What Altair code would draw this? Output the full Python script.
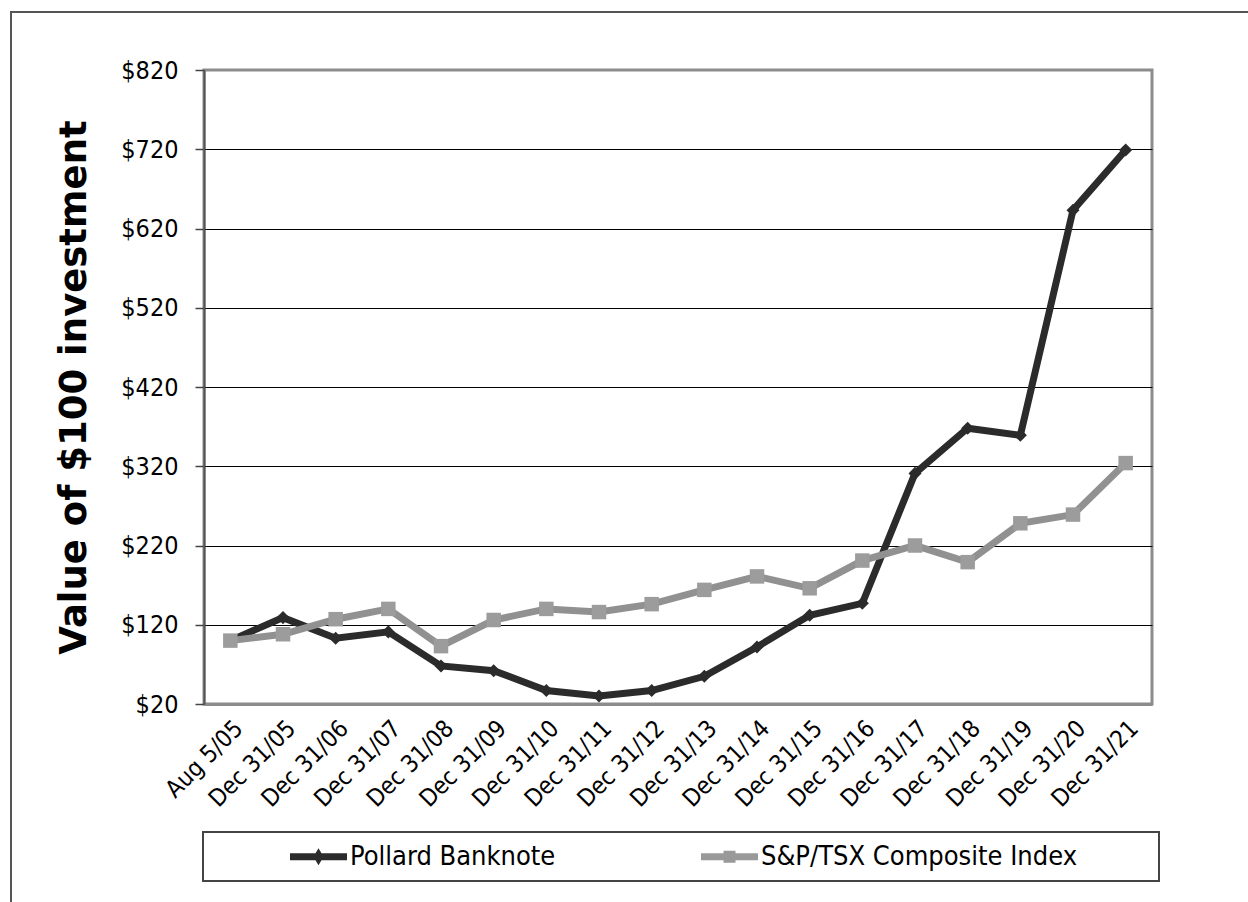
import altair as alt
import pandas as pd

dates = ["Aug 5/05", "Dec 31/05", "Dec 31/06", "Dec 31/07", "Dec 31/08", "Dec 31/09",
         "Dec 31/10", "Dec 31/11", "Dec 31/12", "Dec 31/13", "Dec 31/14", "Dec 31/15",
         "Dec 31/16", "Dec 31/17", "Dec 31/18", "Dec 31/19", "Dec 31/20", "Dec 31/21"]
pollard = [100, 129, 103, 111, 68, 62, 37, 30, 37, 55, 92, 132, 147, 311, 368, 359, 643, 719]
sptsx = [100, 108, 127, 140, 93, 126, 140, 136, 146, 164, 181, 166, 201, 220, 199, 248, 259, 324]
series_names = ["Pollard Banknote", "S&P/TSX Composite Index"]
series_colors = ["#2b2b2b", "#999999"]
y_ticks = [20, 120, 220, 320, 420, 520, 620, 720, 820]

rows = []
for d, p, s in zip(dates, pollard, sptsx):
    rows.append({"date": d, "series": series_names[0], "value": p})
    rows.append({"date": d, "series": series_names[1], "value": s})
df = pd.DataFrame(rows)

FONT = "DejaVu Sans Condensed, DejaVu Sans"
TFONT = "DejaVu Sans"

x_enc = alt.X("date:N", sort=dates, title=None,
              axis=alt.Axis(labelAngle=-45, labelFontSize=24, labelFont=FONT, labelColor="#000",
                            ticks=False, domainColor="#8c8c8c", domainWidth=3, labelPadding=12,
                            grid=False))
y_enc = alt.Y("value:Q", title="Value of $100 investment",
              scale=alt.Scale(domain=[20, 820], nice=False, zero=False),
              axis=alt.Axis(values=y_ticks, labelExpr="'$' + datum.value", labelFontSize=25,
                            labelFont=FONT, labelColor="#000", tickSize=9, tickColor="#444",
                            tickWidth=1.5, labelPadding=17, domainColor="#555", domainWidth=2,
                            grid=True,
                            gridColor=alt.condition("datum.value == 820 || datum.value == 20",
                                                    alt.value("#8c8c8c"), alt.value("#000")),
                            gridWidth=1, titleFont=TFONT, titleFontSize=37, titleFontWeight="bold",
                            titleColor="#000", titlePadding=27))

base = alt.Chart(df)

frame = alt.Chart(pd.DataFrame({"k": [0]})).mark_rect(
    fill="white", fillOpacity=0, stroke="#555", strokeWidth=2
).encode(x=alt.value(-193), x2=alt.value(1200), y=alt.value(-58), y2=alt.value(950))

legend_box = alt.Chart(pd.DataFrame({"k": [0]})).mark_rect(
    fill="white", stroke="#444", strokeWidth=2
).encode(x=alt.value(-1), x2=alt.value(955), y=alt.value(762), y2=alt.value(811))

p_line = base.transform_filter(alt.datum.series == series_names[0]).mark_line(
    color=series_colors[0], strokeWidth=7).encode(x=x_enc, y=y_enc)
p_pts = base.transform_filter(alt.datum.series == series_names[0]).mark_point(
    shape="diamond", filled=True, color=series_colors[0], size=170, opacity=1).encode(x=x_enc, y=y_enc)
s_line = base.transform_filter(alt.datum.series == series_names[1]).mark_line(
    color="#919191", strokeWidth=7).encode(x=x_enc, y=y_enc)
s_pts = base.transform_filter(alt.datum.series == series_names[1]).mark_point(
    shape="square", filled=True, color="#9c9c9c", size=210, opacity=1).encode(x=x_enc, y=y_enc)

legend_paths = [
    "M-1,-0.12L1,-0.12L1,0.12L-1,0.12Z M0,-0.3L0.18,0L0,0.3L-0.18,0Z",
    "M-1,-0.12L1,-0.12L1,0.12L-1,0.12Z M-0.21,-0.21L0.21,-0.21L0.21,0.21L-0.21,0.21Z",
]
leg = alt.Legend(orient="none", legendX=86, legendY=758, direction="horizontal", title=None,
                 labelFontSize=27, labelFont=FONT, labelColor="#000", symbolSize=3249,
                 symbolOpacity=1, symbolStrokeWidth=0, columnPadding=145, labelOffset=3,
                 padding=0, labelLimit=600)
legend_layer = base.mark_point(filled=True, opacity=0).encode(
    x=x_enc, y=y_enc,
    color=alt.Color("series:N", scale=alt.Scale(domain=series_names, range=series_colors), legend=leg),
    shape=alt.Shape("series:N", scale=alt.Scale(domain=series_names, range=legend_paths), legend=leg),
)

chart = alt.layer(frame, legend_box, p_line, p_pts, s_line, s_pts, legend_layer).properties(
    width=948, height=634,
    autosize=alt.AutoSizeParams(type="none"),
    padding={"left": 204, "top": 70, "right": 96, "bottom": 198},
    background="white",
).configure_view(stroke="#8c8c8c", strokeWidth=3)

chart.save("out.html", embed_options={"renderer": "svg", "actions": False})
